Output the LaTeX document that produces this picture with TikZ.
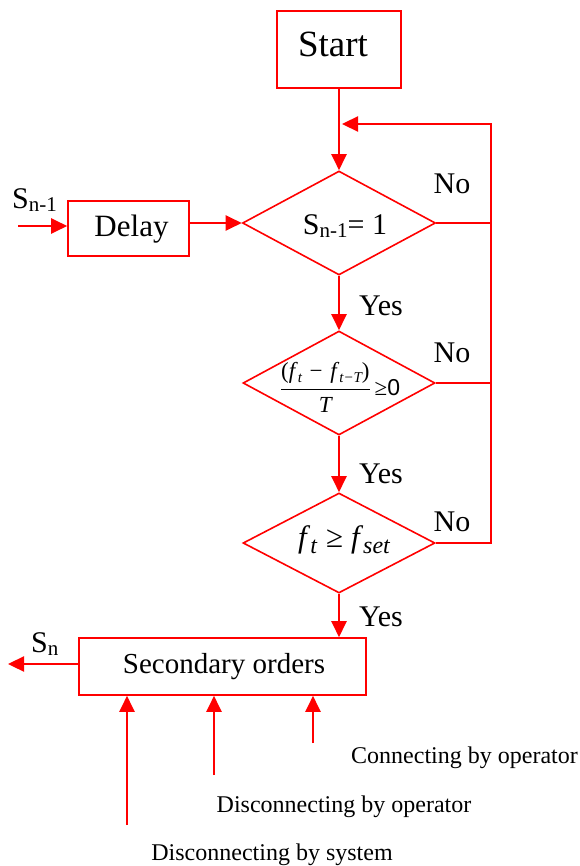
\documentclass[tikz,border=0pt]{standalone}
\usepackage{fontspec}
\setmainfont{Liberation Serif}
\newfontfamily\sansf{Liberation Sans}
\usetikzlibrary{shapes.geometric,arrows.meta}
\newcommand{\lsub}[1]{\raisebox{-3pt}{\fontsize{21}{21}\selectfont #1}}
\newcommand{\fsubA}[1]{\raisebox{-4pt}{\fontsize{15}{15}\selectfont\itshape #1}}
\newcommand{\fsubB}[1]{\raisebox{-6pt}{\fontsize{24}{24}\selectfont\itshape #1}}
\begin{document}
\begin{tikzpicture}[x=1pt,y=-1pt]
\tikzset{
  box/.style={draw=red, line width=1.6pt, rectangle, inner sep=0pt},
  dia/.style={draw=red, line width=1.6pt, diamond, inner sep=0pt},
  flow/.style={draw=red, line width=2.3pt, -{Triangle[length=16pt,width=15pt]}},
  wire/.style={draw=red, line width=2.3pt},
  lbl/.style={inner sep=0pt, anchor=base, font=\fontsize{30}{30}\selectfont},
  small/.style={inner sep=0pt, anchor=base, font=\fontsize{24}{24}\selectfont},
}
\useasboundingbox (0,0) rectangle (579,866);
% boxes
\node[box, minimum width=124pt, minimum height=77pt] (start) at (339,49.5) {};
\node[lbl, font=\fontsize{37}{37}\selectfont] (starttext) at (333,57) {Start};
\node[box, minimum width=121pt, minimum height=55pt] (delay) at (128.5,228.5) {};
\node[lbl, font=\fontsize{31}{31}\selectfont] (delaytext) at (131.5,237) {Delay};
\node[dia, minimum width=193pt, minimum height=104pt] (d1) at (339,223) {};
\node[lbl] (d1text) at (345,235) {S\lsub{n-1}= 1};
\node[dia, minimum width=192pt, minimum height=104pt] (d2) at (339,383) {};
\node[inner sep=0pt, anchor=base] (d2text) at (340,395) {\fontsize{23}{23}\selectfont $\displaystyle\frac{\hbox{(\textit{f}\fsubA{t}\,\,−\,\,\textit{f}\fsubA{t−T})}}{\hbox{\itshape T}}$\,≥{\sansf 0}};
\node[dia, minimum width=192pt, minimum height=100pt] (d3) at (339,543) {};
\node[inner sep=0pt, anchor=base] (d3text) at (344,547) {\fontsize{31}{31}\selectfont\textit{f}\fsubB{t}\hspace{9pt}≥\hspace{8pt}\textit{f}\fsubB{set}};
\node[box, minimum width=287pt, minimum height=57pt] (sec) at (222.5,666.5) {};
\node[lbl, font=\fontsize{29}{29}\selectfont] (sectext) at (224,673) {Secondary orders};
% connectors
\coordinate (fbtop) at (491,124);
\coordinate (fbbot) at (491,543);
\coordinate (fbtip) at (342,124);
\draw[flow] (start.south) -- (d1.north);
\draw[wire] (d1.east) -- (d1.east -| fbtop);
\draw[wire] (d2.east) -- (d2.east -| fbtop);
\draw[flow, line join=miter] (d3.east) -- (fbbot) -- (fbtop) -- (fbtip);
\draw[flow] (d1.south) -- (d2.north);
\draw[flow] (d2.south) -- (d3.north);
\draw[flow] (d3.south) -- (d3.south |- sec.north);
\coordinate (sin) at (18,226);
\draw[flow] (sin) -- (sin -| delay.west);
\draw[flow] (d1.west -| delay.east) -- (d1.west);
\coordinate (sout) at (8,664);
\draw[flow] (sout -| sec.west) -- (sout);
\coordinate (in1) at (127,825);
\coordinate (in2) at (214,775);
\coordinate (in3) at (313,743);
\draw[flow] (in1) -- (in1 |- sec.south);
\draw[flow] (in2) -- (in2 |- sec.south);
\draw[flow] (in3) -- (in3 |- sec.south);
% labels
\node[lbl] (no1) at (452,194) {No};
\node[lbl] (no2) at (452,362) {No};
\node[lbl] (no3) at (452,531) {No};
\node[lbl] (yes1) at (381,315) {Yes};
\node[lbl] (yes2) at (381,483) {Yes};
\node[lbl] (yes3) at (381,626) {Yes};
\node[lbl, anchor=base west] (sinlbl) at (12,209) {S\lsub{n-1}};
\node[lbl, anchor=base west] (soutlbl) at (31,652) {S\lsub{n}};
\node[small] (t1) at (464.5,763) {Connecting by operator};
\node[small] (t2) at (344,812) {Disconnecting by operator};
\node[small] (t3) at (272,860) {Disconnecting by system};
\end{tikzpicture}
\end{document}
